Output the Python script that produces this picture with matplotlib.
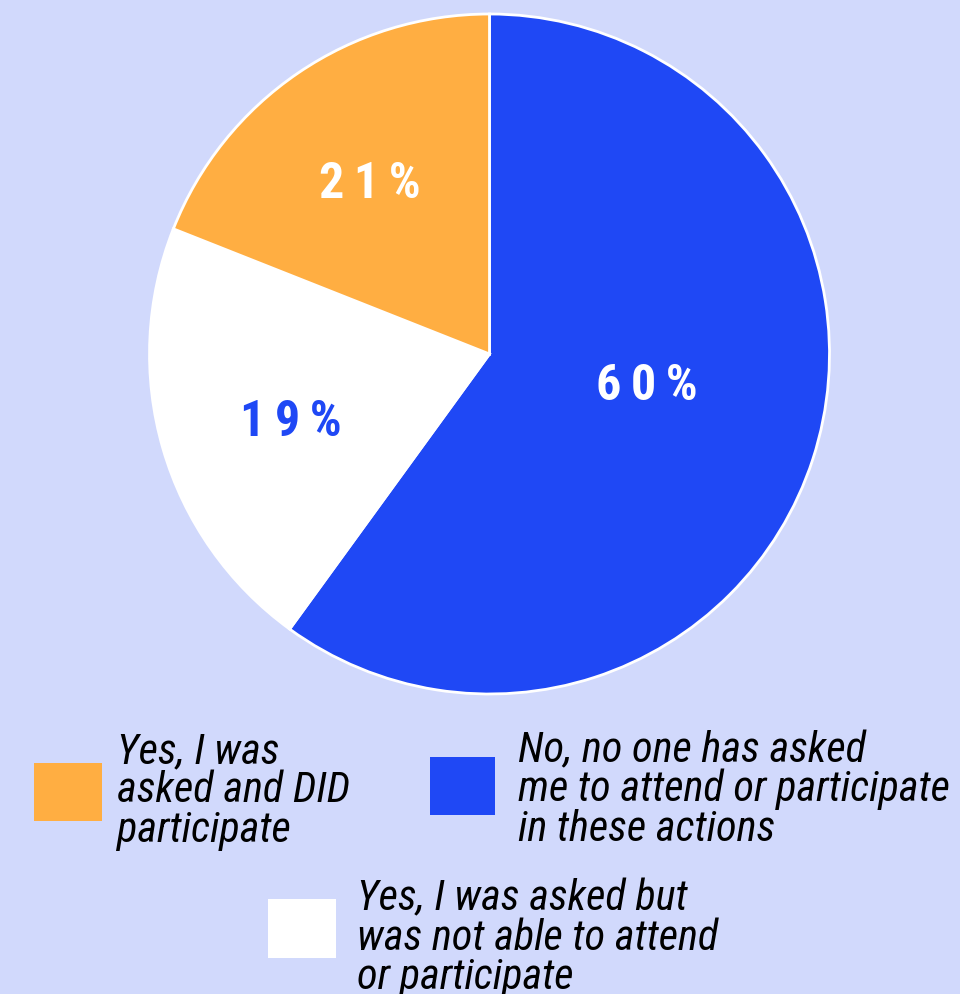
import matplotlib
matplotlib.use("Agg")
import matplotlib.pyplot as plt
from matplotlib.patches import Rectangle

# data (slice order: clockwise from 12 o'clock)
categories = ["No, no one has asked\nme to attend or participate\nin these actions",
              "Yes, I was asked but\nwas not able to attend\nor participate",
              "Yes, I was\nasked and DID\nparticipate"]
shares = [60, 21, 19]                 # slice sizes as drawn
printed_labels = ["60%", "19%", "21%"]  # labels as printed on the slices
colors = ["#1F48F5", "#FFFFFF", "#FFAE42"]
label_colors = ["white", "#1F48F5", "white"]

FONT = ["Roboto Condensed", "DejaVu Sans"]

W, H = 960, 994
fig = plt.figure(figsize=(W/100, H/100), dpi=100)
bg = "#D1D9FC"
fig.patch.set_facecolor(bg)
ax = fig.add_axes([0, 0, 1, 1])

cx, cy, r = 489.5, H - 354, 340
ax.pie(shares, colors=colors, startangle=90, counterclock=False,
       center=(cx, cy), radius=r, frame=True,
       wedgeprops=dict(edgecolor="white", linewidth=2))
ax.set_xlim(0, W)
ax.set_ylim(0, H)
ax.set_aspect("equal")
ax.axis("off")

label_pos = [(647, 381), (291, 418), (370, 179)]
for txt, (x, y), c in zip(printed_labels, label_pos, label_colors):
    ax.text(x, H - y, "\u2009".join(txt), ha="center", va="center_baseline", color=c,
            fontsize=36, fontweight="bold", family=FONT)

# legend
boxes = [(430, 757, 65, 58), (268, 899, 68, 59), (34, 763, 68, 58)]
text_pos = [(518, 762), (357, 910), (117, 763)]
pitch = 39.5
for cat, col, (bx, by, bw, bh), (tx, ty) in zip(categories, colors, boxes, text_pos):
    ax.add_patch(Rectangle((bx, H - by - bh), bw, bh, facecolor=col, edgecolor="none"))
    for i, line in enumerate(cat.split("\n")):
        ax.text(tx, H - (ty + i * pitch), line, ha="left", va="baseline", color="black",
                fontsize=30.5, style="italic", family=FONT)

fig.savefig("out.png", dpi=100, facecolor=bg)
